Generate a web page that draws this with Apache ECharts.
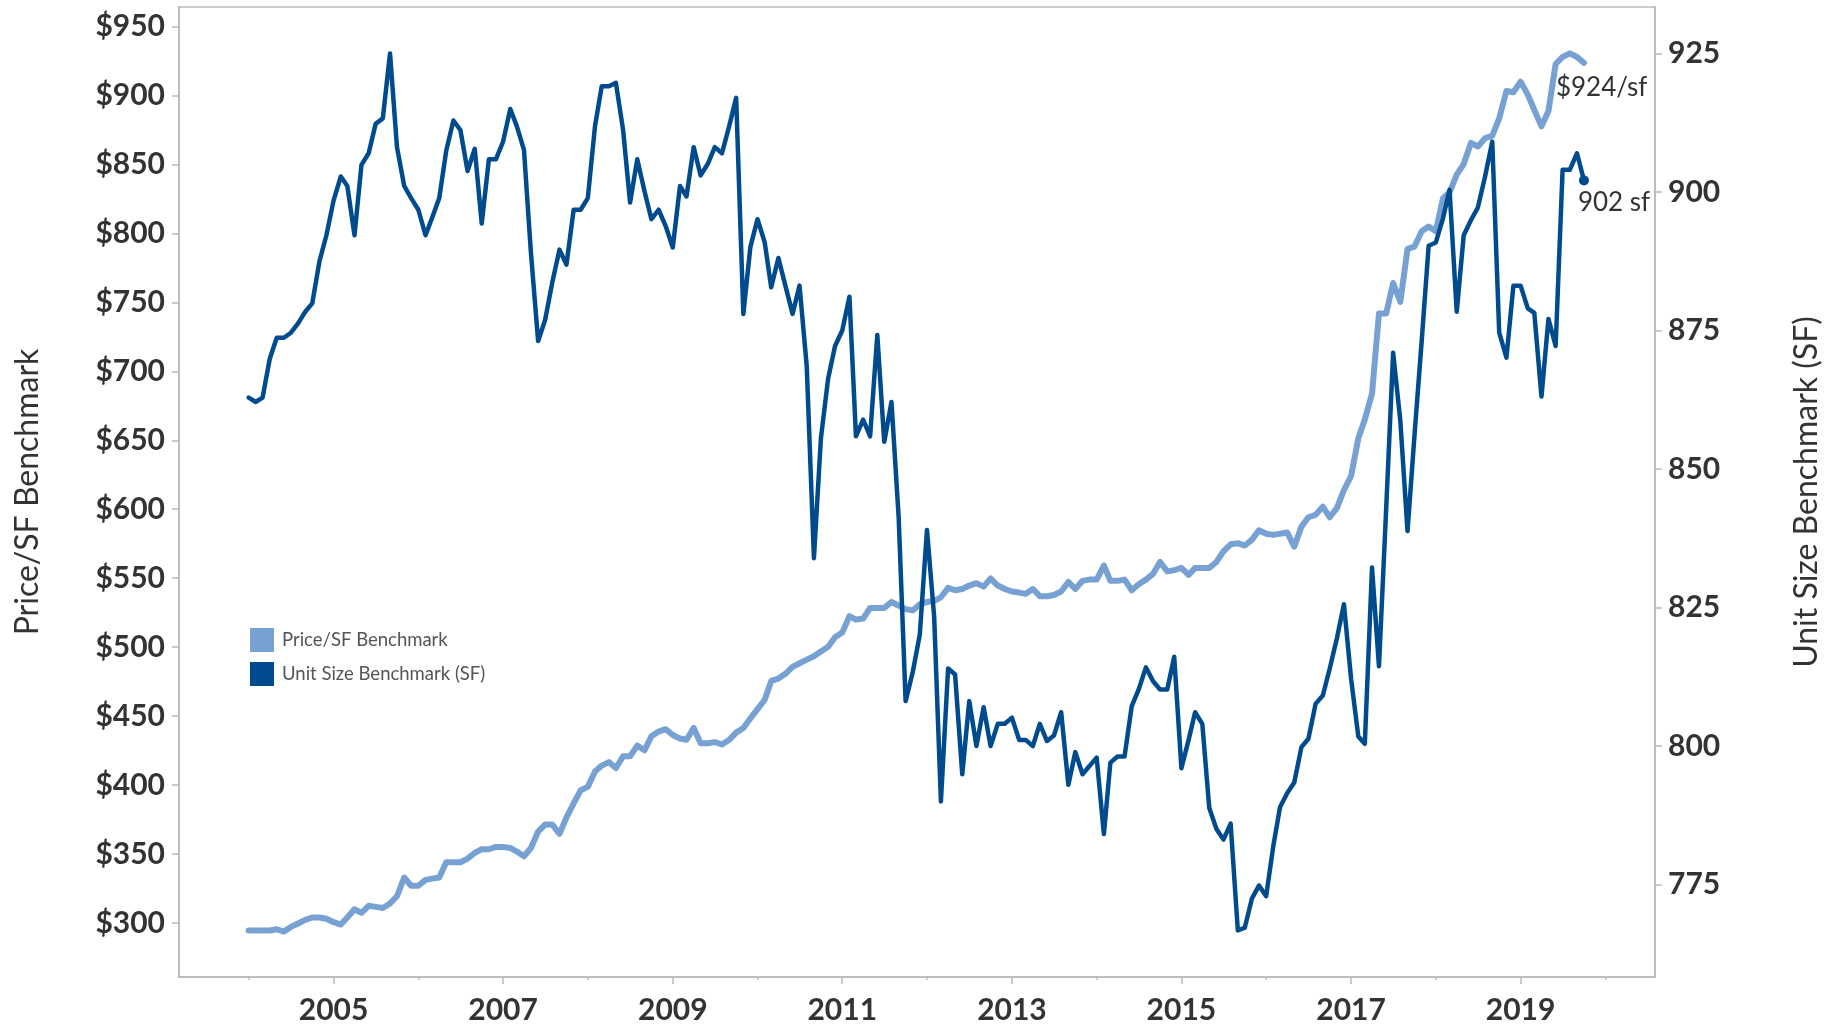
<!DOCTYPE html>
<html>
<head>
<meta charset="utf-8">
<script src="https://cdn.jsdelivr.net/npm/echarts@6/dist/echarts.min.js"></script>
<style>
html,body{margin:0;padding:0;background:#fff;}
#chart{width:1845px;height:1027px;}
</style>
</head>
<body>
<div id="chart"></div>
<script>
// Monthly series, Jan 2004 – Oct 2019
var startYear = 2004;
var seriesNames = ['Price/SF Benchmark', 'Unit Size Benchmark (SF)'];

var priceSF = [
  294.7, 294.7, 294.7, 294.7, 295.6, 293.9, 297.3, 299.8, 302.4, 304.1, 304.1, 303.2,
  300.7, 299.0, 304.1, 310.1, 307.5, 312.6, 311.8, 311.0, 314.3, 319.5, 333.1, 327.1,
  327.1, 331.4, 332.3, 333.1, 344.2, 344.2, 344.2, 346.8, 351.0, 353.6, 353.6, 355.3,
  355.3, 354.5, 351.9, 348.5, 354.5, 366.4, 371.5, 371.5, 364.7, 376.6, 386.9, 396.3,
  398.8, 409.9, 414.2, 416.7, 412.5, 421.0, 421.0, 428.7, 425.3, 435.5, 438.9, 440.6,
  436.4, 433.8, 432.9, 441.5, 430.4, 430.4, 431.2, 429.5, 432.9, 438.1, 441.5, 448.3,
  455.1, 461.9, 475.6, 477.3, 480.7, 485.8, 488.4, 491.0, 493.5, 496.9, 500.3, 507.2,
  510.6, 522.5, 520.0, 520.8, 528.5, 528.5, 528.5, 532.8, 530.2, 527.6, 526.7, 531.1,
  532.8, 533.6, 536.2, 543.0, 541.3, 542.2, 544.7, 546.4, 543.9, 549.8, 544.7, 542.2,
  540.4, 539.6, 538.7, 542.2, 537.0, 537.0, 537.9, 540.4, 547.3, 542.2, 548.1, 549.0,
  549.0, 559.2, 548.1, 548.1, 549.0, 541.3, 545.6, 549.0, 553.2, 561.8, 555.0, 555.8,
  557.5, 552.4, 557.5, 557.5, 557.5, 561.8, 569.5, 574.6, 575.4, 573.7, 578.0, 584.8,
  582.3, 581.4, 582.3, 583.1, 572.9, 587.4, 594.2, 595.9, 601.9, 594.2, 601.0, 613.8,
  624.1, 651.4, 665.0, 683.8, 741.8, 741.8, 764.0, 750.3, 788.7, 790.4, 801.5, 804.9,
  801.5, 825.4, 829.7, 842.5, 850.2, 865.5, 862.9, 868.9, 870.6, 883.4, 903.1, 902.2,
  909.9, 900.5, 889.4, 877.5, 888.6, 922.7, 927.8, 930.4, 927.8, 923.5
];

var unitSize = [
  862.9, 862.1, 862.9, 869.9, 873.7, 873.7, 874.6, 876.3, 878.4, 879.9, 887.5, 892.2,
  898.5, 902.8, 901.1, 892.2, 904.9, 907.0, 912.3, 913.3, 925.0, 908.1, 901.1, 898.9,
  896.8, 892.2, 895.3, 898.9, 907.4, 912.9, 911.2, 903.8, 907.8, 894.3, 905.9, 905.9,
  909.1, 915.0, 911.9, 907.6, 889.0, 873.1, 876.9, 883.7, 889.6, 886.9, 896.8, 896.8,
  898.9, 911.9, 919.1, 919.1, 919.7, 911.2, 898.1, 905.9, 900.2, 895.1, 896.8, 893.9,
  890.0, 901.1, 899.2, 908.1, 903.0, 905.1, 908.1, 907.0, 911.9, 917.0, 878.0, 890.0,
  895.1, 890.9, 882.8, 888.1, 883.1, 878.0, 883.1, 868.6, 833.9, 855.5, 866.3, 872.2,
  875.0, 881.1, 855.9, 858.9, 855.9, 874.2, 854.9, 862.1, 841.3, 808.1, 813.4, 820.1,
  839.0, 823.3, 790.0, 814.0, 812.9, 794.9, 808.1, 800.0, 807.0, 800.0, 804.0, 804.0,
  805.1, 801.1, 801.1, 800.0, 804.0, 800.9, 801.9, 806.1, 793.0, 798.9, 794.9, 796.4,
  797.9, 784.1, 797.0, 798.1, 798.1, 807.2, 810.2, 814.2, 811.7, 810.2, 810.2, 816.1,
  796.0, 801.1, 806.1, 804.0, 788.8, 785.0, 783.1, 786.0, 766.7, 767.2, 772.5, 774.8,
  772.9, 782.0, 789.0, 791.5, 793.4, 799.8, 801.3, 807.6, 809.1, 814.0, 819.5, 825.6,
  812.1, 801.7, 800.4, 832.2, 814.4, 842.8, 871.0, 858.7, 838.8, 856.1, 873.1, 890.3,
  890.9, 895.3, 900.4, 878.4, 892.2, 894.9, 897.2, 902.8, 909.1, 874.6, 870.1, 883.1,
  883.1, 879.0, 878.2, 863.1, 877.1, 872.2, 904.0, 904.0, 907.0, 902.1
];

var xLabelYears = [2005, 2007, 2009, 2011, 2013, 2015, 2017, 2019];
var xMinorYears = [2004, 2006, 2008, 2010, 2012, 2014, 2016, 2018, 2020];
var leftTicks = [300, 350, 400, 450, 500, 550, 600, 650, 700, 750, 800, 850, 900, 950];
var rightTicks = [775, 800, 825, 850, 875, 900, 925];

var colorPrice = '#77a1d3';
var colorUnit = '#004b8d';
var FONT = 'Lato';

function monthDate(i) { return new Date(startYear, i, 1).getTime(); }
function yearDate(y) { return new Date(y, 0, 1).getTime(); }

var priceData = priceSF.map(function (v, i) { return [monthDate(i), v]; });
var unitData = unitSize.map(function (v, i) { return [monthDate(i), v]; });
var lastU = unitData.length - 1;
unitData[lastU] = { value: unitData[lastU], symbol: 'circle', symbolSize: 10 };

var xMin = new Date(2003, 2, 7).getTime();
var xMax = new Date(2020, 7, 2).getTime();

var chart = echarts.init(document.getElementById('chart'), null, { renderer: 'canvas' });

var axisGrey = '#b9b9b9';
var option = {
  animation: false,
  backgroundColor: '#ffffff',
  grid: {
    left: 179, right: 190, top: 7, bottom: 50,
    show: true, borderColor: axisGrey, borderWidth: 1.5, backgroundColor: 'transparent'
  },
  legend: {
    orient: 'vertical',
    left: 245, top: 623,
    itemWidth: 24, itemHeight: 24, itemGap: 10,
    icon: 'rect',
    data: seriesNames,
    textStyle: { fontFamily: FONT, fontSize: 18.5, color: '#555555', padding: [0, 0, 0, 3] }
  },
  xAxis: [{
    type: 'value',
    min: xMin, max: xMax,
    splitLine: { show: false },
    axisLine: { show: true, lineStyle: { color: axisGrey, width: 1.5 } },
    axisTick: { show: true, length: 7, lineStyle: { color: axisGrey, width: 1.5 },
      customValues: xLabelYears.map(yearDate) },
    axisLabel: {
      show: true, margin: 18,
      customValues: xLabelYears.map(yearDate),
      formatter: function (v) { return String(new Date(v).getFullYear()); },
      fontFamily: FONT, fontWeight: 'bold', fontSize: 30, color: '#333333'
    }
  }, {
    type: 'value',
    min: xMin, max: xMax,
    position: 'bottom',
    splitLine: { show: false },
    axisLine: { show: false },
    axisTick: { show: true, length: 3, lineStyle: { color: axisGrey, width: 1.5 },
      customValues: xMinorYears.map(yearDate) },
    axisLabel: { show: false, customValues: xMinorYears.map(yearDate) }
  }],
  yAxis: [{
    type: 'value',
    position: 'left',
    min: 261, max: 964,
    name: seriesNames[0],
    nameLocation: 'middle',
    nameGap: 135,
    nameTextStyle: { fontFamily: FONT, fontSize: 32, color: '#333333' },
    splitLine: { show: false },
    axisLine: { show: true, lineStyle: { color: axisGrey, width: 1.5 } },
    axisTick: { show: true, length: 7, lineStyle: { color: axisGrey, width: 1.5 }, customValues: leftTicks },
    axisLabel: {
      customValues: leftTicks, margin: 14,
      formatter: function (v) { return '$' + v; },
      fontFamily: FONT, fontWeight: 'bold', fontSize: 30, color: '#333333'
    }
  }, {
    type: 'value',
    position: 'right',
    min: 758.3, max: 933.4,
    name: seriesNames[1],
    nameLocation: 'middle',
    nameGap: 136,
    nameTextStyle: { fontFamily: FONT, fontSize: 32, color: '#333333' },
    splitLine: { show: false },
    axisLine: { show: true, lineStyle: { color: axisGrey, width: 1.5 } },
    axisTick: { show: true, length: 7, lineStyle: { color: axisGrey, width: 1.5 }, customValues: rightTicks },
    axisLabel: {
      customValues: rightTicks, margin: 13,
      fontFamily: FONT, fontWeight: 'bold', fontSize: 30, color: '#333333'
    }
  }],
  series: [{
    name: seriesNames[0],
    type: 'line',
    xAxisIndex: 0, yAxisIndex: 0,
    data: priceData,
    showSymbol: false,
    symbol: 'none',
    lineStyle: { color: colorPrice, width: 6, join: 'round', cap: 'round' },
    itemStyle: { color: colorPrice },
    endLabel: {
      show: true, distance: 0, align: 'left', verticalAlign: 'middle', offset: [-28, 25],
      formatter: function (p) { return '$' + Math.round(p.value[1]) + '/sf'; },
      fontFamily: FONT, fontSize: 26, color: '#333333'
    },
    emphasis: { disabled: true },
    z: 2
  }, {
    name: seriesNames[1],
    type: 'line',
    xAxisIndex: 0, yAxisIndex: 1,
    data: unitData,
    showSymbol: true,
    showAllSymbol: true,
    symbol: 'none',
    lineStyle: { color: colorUnit, width: 4.5, join: 'round', cap: 'round' },
    itemStyle: { color: colorUnit },
    endLabel: {
      show: true, distance: 0, align: 'left', verticalAlign: 'middle', offset: [-6, 22],
      formatter: function (p) { var v = p.value; if (v && v.value) v = v.value; return Math.round(v[1]) + ' sf'; },
      fontFamily: FONT, fontSize: 26, color: '#333333'
    },
    emphasis: { disabled: true },
    z: 3
  }]
};
chart.setOption(option);
</script>
</body>
</html>
